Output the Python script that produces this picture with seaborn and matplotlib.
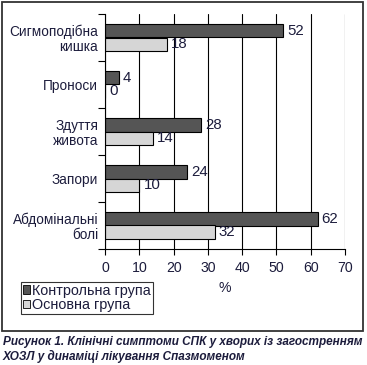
import matplotlib
matplotlib.use("Agg")
import matplotlib.pyplot as plt
import seaborn as sns
import pandas as pd
from matplotlib.patches import Rectangle, Patch
from matplotlib.ticker import FixedLocator

categories = ["Сигмоподібна\nкишка", "Проноси", "Здуття\nживота", "Запори", "Абдомінальні\nболі"]
series_names = ["Контрольна група", "Основна група"]
control_values = [52, 4, 28, 24, 62]
main_values = [18, 0, 14, 10, 32]
x_ticks = [0, 10, 20, 30, 40, 50, 60, 70]
x_label = "%"
caption = "Рисунок 1. Клінічні симптоми СПК у хворих із загостренням\nХОЗЛ у динаміці лікування Спазмоменом"

df = pd.DataFrame({
    "cat": categories * 2,
    "val": control_values + main_values,
    "grp": [series_names[0]] * len(categories) + [series_names[1]] * len(categories),
})

sns.set_style("white")
plt.rcParams['font.family'] = ['Liberation Sans', 'DejaVu Sans']
txt = "#1c1c3c"

fig = plt.figure(figsize=(3.67, 3.65), dpi=100)
ax = fig.add_axes([105/367, 1-249/365, 240/367, 235/365])

sns.barplot(data=df, y="cat", x="val", hue="grp", orient="h", order=categories,
            hue_order=series_names, palette=["#555555", "#d6d6d6"], width=0.56,
            edgecolor="black", linewidth=0.8, ax=ax, legend=False)

ax.set_xlim(0, 70)
ax.set_ylim(4.5, -0.5)
ax.set_xticks(x_ticks)
ax.set_xticklabels([str(t) for t in x_ticks], fontsize=10.2, color=txt)
ax.set_yticks(range(len(categories)))
ax.set_yticklabels(categories, fontsize=9.8, color=txt, linespacing=1.1)
ax.yaxis.set_minor_locator(FixedLocator([i - 0.5 for i in range(len(categories) + 1)]))
ax.tick_params(axis="y", which="major", length=0, pad=5)
ax.tick_params(axis="y", which="minor", length=5, width=0.8, color="black", direction="out", left=True)
ax.tick_params(axis="x", length=4, width=0.8, color="black", direction="out", bottom=True, pad=5)
ax.set_xlabel(x_label, fontsize=10.2, color=txt, labelpad=4)
ax.set_ylabel("")
ax.grid(axis="x", color="black", linewidth=0.8)
ax.set_axisbelow(True)
for s in ["top", "right"]:
    ax.spines[s].set_visible(False)
for s in ["left", "bottom"]:
    ax.spines[s].set_color("black")
    ax.spines[s].set_linewidth(0.8)

for cont in ax.containers:
    ax.bar_label(cont, labels=[f"{int(v)}" for v in cont.datavalues], padding=3,
                 fontsize=10.8, color=txt)

handles = [Patch(facecolor="#555555", edgecolor="black", linewidth=0.6),
           Patch(facecolor="#d6d6d6", edgecolor="black", linewidth=0.6)]
leg = fig.legend(handles, series_names, loc="upper left",
                 bbox_to_anchor=(21/367, 1-282/365), fontsize=10.4, frameon=True,
                 fancybox=False, handlelength=0.5, handleheight=0.5, handletextpad=0.15,
                 borderpad=0.12, labelspacing=0.05, borderaxespad=0)
leg.get_frame().set_edgecolor("black")
leg.get_frame().set_linewidth(0.8)
for t in leg.get_texts():
    t.set_color(txt)

fig.patches.append(Rectangle((2/367, 1-331/365), 361/367, 329/365, transform=fig.transFigure,
                             fill=False, edgecolor="#333333", linewidth=1.3))

fig.text(3/367, 1-336/365, caption, fontsize=8.45, fontweight="bold", fontstyle="italic",
         color=txt, va="top", ha="left", linespacing=1.2)

fig.savefig("out.png", dpi=100)
